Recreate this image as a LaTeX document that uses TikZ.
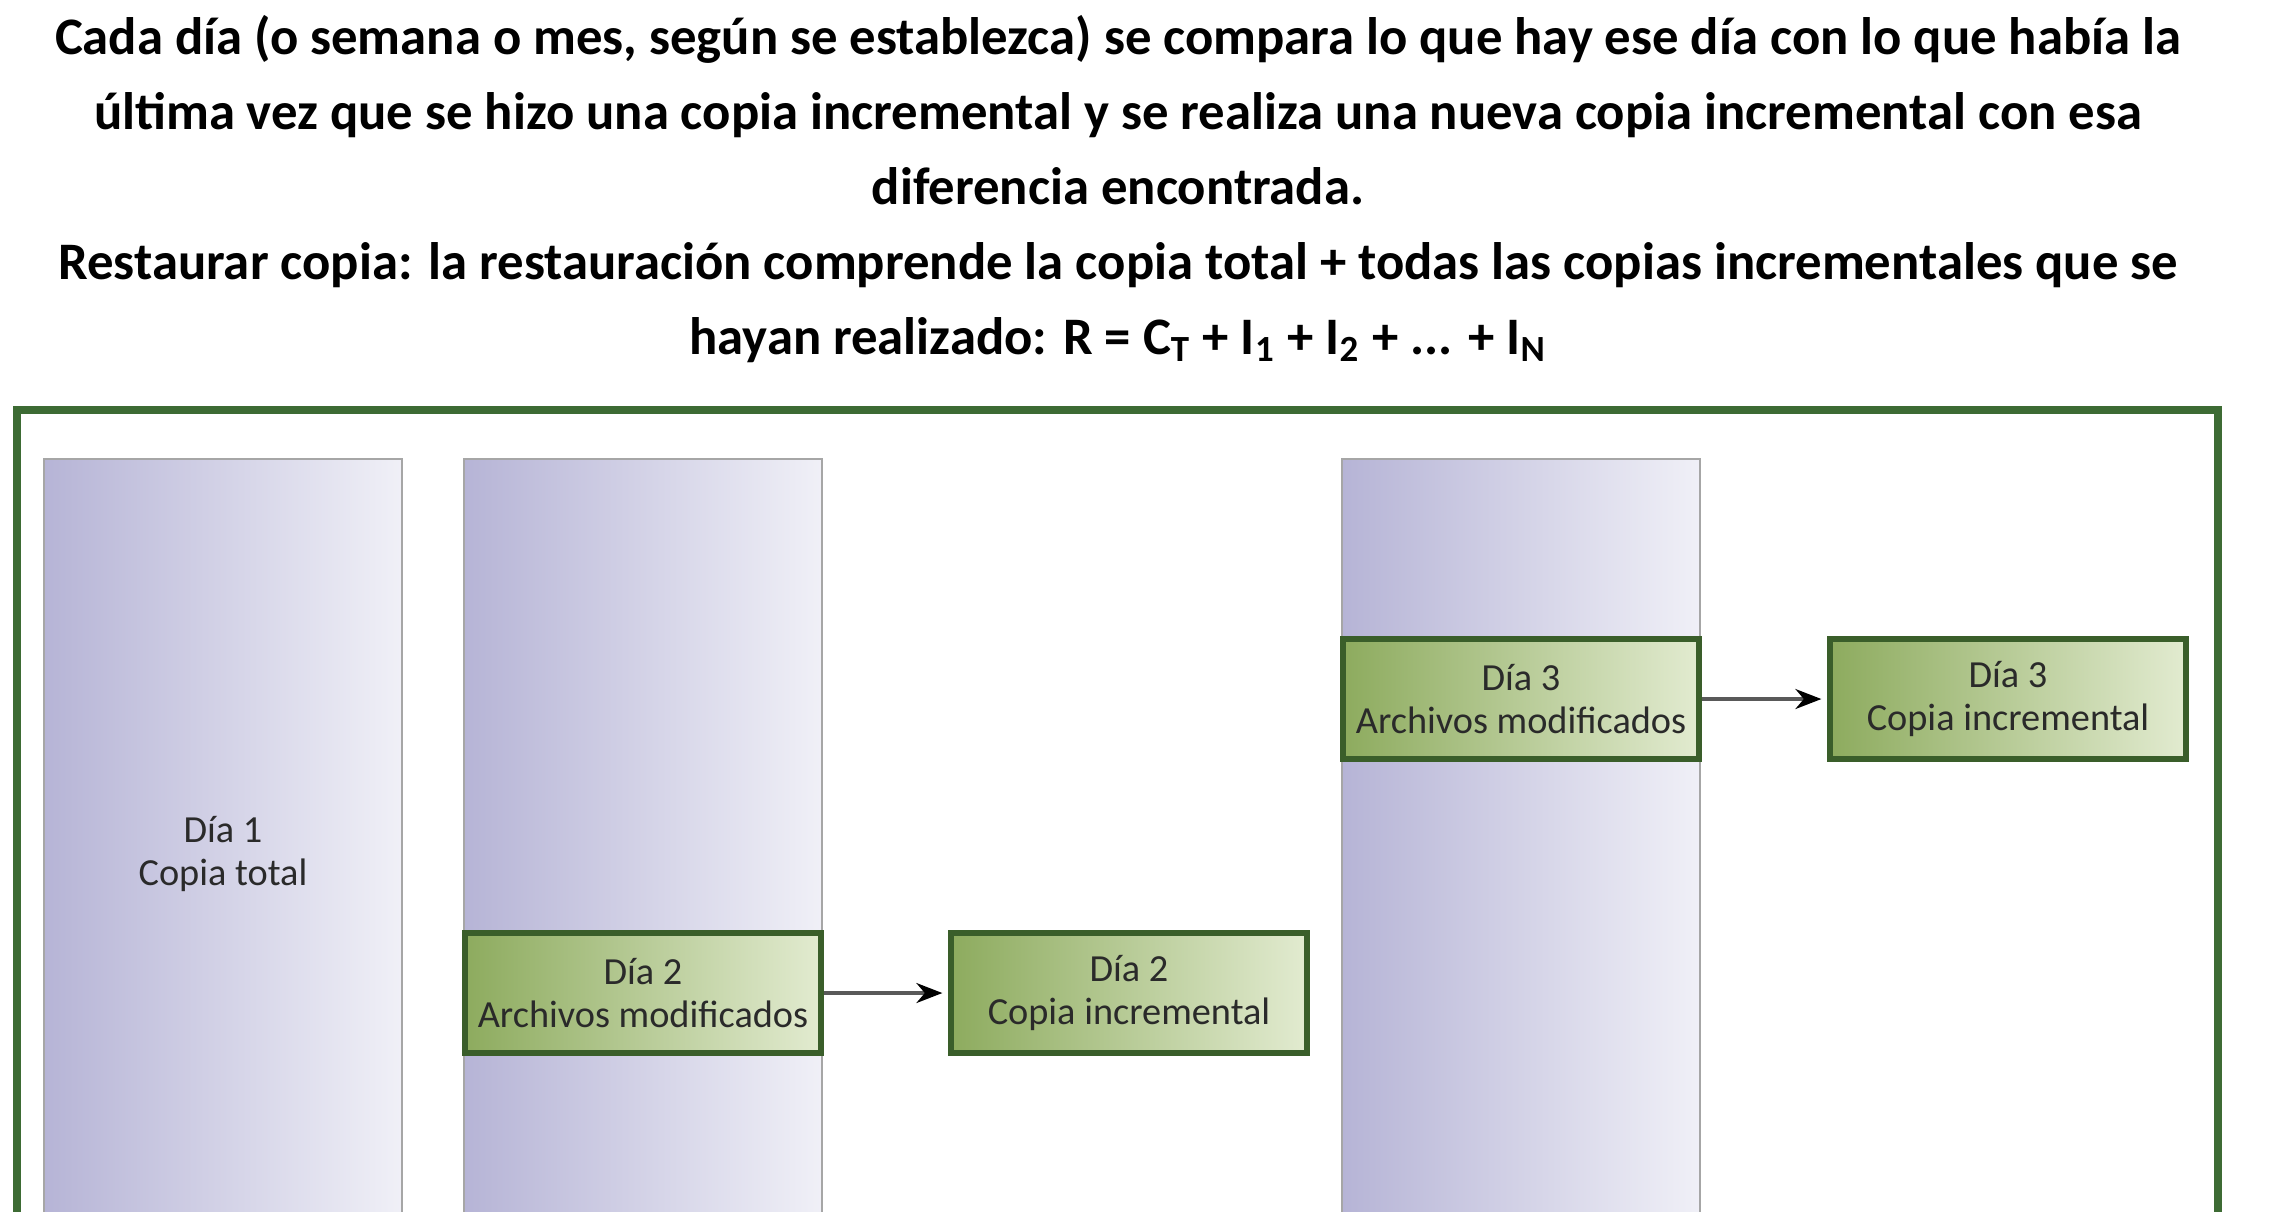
\documentclass[tikz,border=0pt]{standalone}
\usepackage{fontspec}
\setmainfont{Carlito}
\usetikzlibrary{arrows.meta}
\definecolor{framegreen}{HTML}{3D6B34}
\definecolor{boxgreen}{HTML}{3A5E2A}
\definecolor{colleft}{HTML}{B6B4D6}
\definecolor{colright}{HTML}{F0F0F7}
\definecolor{greenleft}{HTML}{8DAB5E}
\definecolor{greenright}{HTML}{E2EBD0}
\definecolor{labelgrey}{HTML}{2A2A2A}
\begin{document}
\begin{tikzpicture}[x=1cm,y=1cm,
  column/.style={draw=black!35,line width=0.6pt,left color=colleft,right color=colright,
    minimum width=3.58cm,minimum height=8cm,anchor=north,inner sep=0pt},
  greenbox/.style={draw=boxgreen,line width=1.5pt,left color=greenleft,right color=greenright,
    minimum width=3.56cm,minimum height=1.2cm,inner sep=0pt,align=center,
    text=labelgrey,font=\fontsize{10.9}{12}\selectfont},
  daylabel/.style={align=center,text=labelgrey,font=\fontsize{10.9}{12}\selectfont},
  flow/.style={black!65,line width=0.9pt,-{Stealth[length=0.26cm,width=0.2cm,black]},shorten >=0.06cm}]
\path[use as bounding box] (0,0) rectangle (22.73,-12.11);
\clip (0,0) rectangle (22.73,-12.11);
\fill[white] (0,0) rectangle (22.73,-12.11);
\node[align=center,font=\bfseries\fontsize{15}{21.3}\selectfont] (title) at (11.18,-1.89)
  {Cada día (o semana o mes, según se establezca) se compara lo que hay ese día con lo que había la\\
   última vez que se hizo una copia incremental y se realiza una nueva copia incremental con esa\\
   diferencia encontrada.\\
   Restaurar copia: la restauración comprende la copia total + todas las copias incrementales que se\\
   hayan realizado: R = C\textsubscript{T} + I\textsubscript{1} + I\textsubscript{2} + ... + I\textsubscript{N}};
\draw[framegreen,line width=2.2pt] (0.17,-12.4) -- (0.17,-4.10) -- (22.18,-4.10) -- (22.18,-12.4);
\node[column] (col1) at (2.23,-4.58) {};
\node[column] (col2) at (6.43,-4.58) {};
\node[column] (col3) at (15.21,-4.58) {};
\node[daylabel] (day1) at (2.23,-8.54) {Día 1\\Copia total};
\node[greenbox] (day2mod) at (6.43,-9.93) {Día 2\\Archivos modificados};
\node[greenbox] (day2inc) at (11.29,-9.93) {Día 2\\Copia incremental};
\node[greenbox] (day3mod) at (15.21,-6.99) {Día 3\\Archivos modificados};
\node[greenbox] (day3inc) at (20.08,-6.99) {Día 3\\Copia incremental};
\draw[flow] (day2mod) -- (day2inc);
\draw[flow] (day3mod) -- (day3inc);
\end{tikzpicture}
\end{document}
